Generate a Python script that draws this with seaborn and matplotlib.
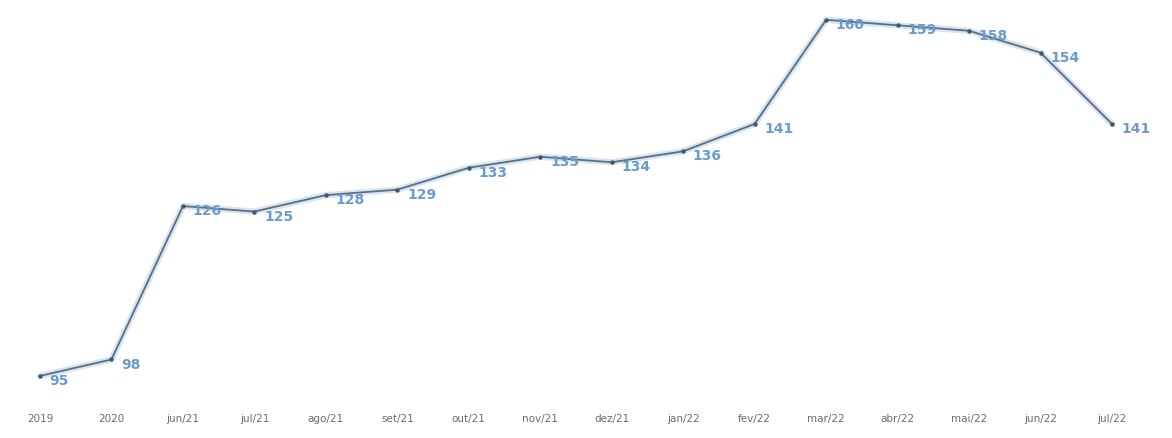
import matplotlib
matplotlib.use("Agg")
import matplotlib.pyplot as plt
import seaborn as sns
import pandas as pd

categories = ["2019", "2020", "jun/21", "jul/21", "ago/21", "set/21", "out/21", "nov/21",
              "dez/21", "jan/22", "fev/22", "mar/22", "abr/22", "mai/22", "jun/22", "jul/22"]
values = [95, 98, 126, 125, 128, 129, 133, 135, 134, 136, 141, 160, 159, 158, 154, 141]

sns.set_theme(style="white")
plt.rcParams['font.family'] = ['DejaVu Sans']

df = pd.DataFrame({"idx": range(len(categories)), "valor": values})

fig = plt.figure(figsize=(11.72, 4.39), dpi=100)
ax = fig.add_axes([0, 44/439, 1, 395/439])

# soft blue halo under the line
sns.lineplot(data=df, x="idx", y="valor", ax=ax, color="#b7d4ee", linewidth=4.5, alpha=0.6)
sns.lineplot(data=df, x="idx", y="valor", ax=ax, color="#5f6e7c", linewidth=1.3,
             marker="o", markersize=3.2, markeredgewidth=0, markerfacecolor="#455668")

for i, v in enumerate(values):
    ax.annotate(str(v), (i, v), xytext=(7, -3), textcoords="offset points",
                ha="left", va="center", fontsize=10, fontweight="semibold", color="#6a9bcc")

ax.set_xlim(-0.56, 15.84)
ax.set_ylim(91.7, 163.8)
ax.set_xticks(range(len(categories)))
ax.set_xticklabels(categories, fontsize=7.5, color="#6b6b6b")
ax.tick_params(axis="x", length=0, pad=14)
ax.set_yticks([])
ax.set_xlabel("")
ax.set_ylabel("")
for s in ax.spines.values():
    s.set_visible(False)

fig.savefig("out.png", dpi=100)
